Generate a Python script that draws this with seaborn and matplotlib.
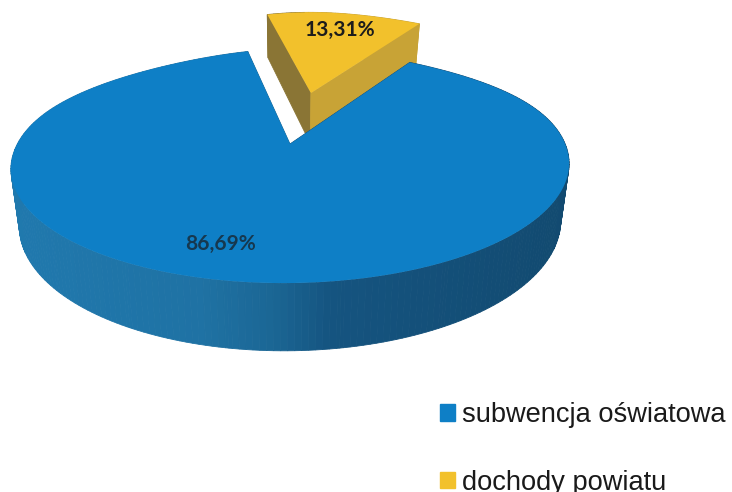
import numpy as np
import seaborn as sns
from matplotlib import pyplot as plt
from matplotlib.colors import to_hex, to_rgb
from matplotlib.patches import Patch
from matplotlib.transforms import Affine2D

categories = ['subwencja oświatowa', 'dochody powiatu']
values = [86.69, 13.31]
colors = ['#0e7fc6', '#f2c12c']

sns.set_theme(style='white')
plt.rcParams['font.family'] = ['Liberation Sans', 'DejaVu Sans']

fig, ax = plt.subplots(figsize=(7.32, 4.92), dpi=100)
fig.subplots_adjust(0, 0, 1, 1)

# pie gives the wedge geometry, it is projected by hand afterwards (3d look)
wedges, _ = ax.pie(values, explode=[0, 0.5], startangle=103.2, radius=1)
outlines = []
for w in wedges:
    poly = w.get_path().to_polygons(Affine2D().scale(1000))[0] / 1000
    outlines.append((poly, np.array(w.center), w.r))
    w.remove()

ax.set_aspect('auto')
ax.set_xlim(0, 732)
ax.set_ylim(492, 0)
ax.axis('off')


def project(pts, z=0.0):
    u, v = pts[:, 0], pts[:, 1]
    wy = 1 + 0.188 * v
    wx = 1 + 0.19 * v
    # narrower near the back middle, the original is not a clean ellipse
    pinch = 1 - 0.22 * np.clip(1 - u ** 2, 0, 1) ** 1.2 * np.clip(v, 0, 1)
    dx = 274 * u / wx * pinch
    x = 290 + dx * (1 - 0.03 * z)
    y = 144 - (112.9 * v - 55 * z) / wy - 0.01 * dx
    return np.column_stack([x, y])


def side_blue(x):
    stops = [10, 200, 270, 330, 568]
    cols = np.array([to_rgb(c) for c in ['#2079ae', '#1f72a4', '#1b6795', '#155480', '#124a70']])
    return to_hex([np.interp(x, stops, cols[:, i]) for i in range(3)])


def side_yellow(x, mid_u):
    return '#8a7535' if mid_u < 0 else '#c8a336'


def draw_slice(poly, center, r, color, side):
    edges = []
    for a, b in zip(poly[:-1], poly[1:]):
        edges.append((a, b))
    edges.sort(key=lambda e: -(e[0][1] + e[1][1]))
    for a, b in edges:
        seg = np.array([a, b])
        top = project(seg)
        bot = project(seg, 1.0)
        quad = np.vstack([top, bot[::-1]])
        c = side(quad[:, 0].mean(), ((a + b) / 2 - center)[0])
        ax.fill(quad[:, 0], quad[:, 1], color=c, lw=0.6, zorder=2)
    face = project(poly)
    ax.fill(face[:, 0], face[:, 1], color=color, lw=0, zorder=2)


# yellow first, the blue slice covers the foot of it
draw_slice(*outlines[1], colors[1], side_yellow)
draw_slice(*outlines[0], colors[0], lambda x, m: side_blue(x))

label_txt = [f'{v:.2f}%'.replace('.', ',') for v in values]
ax.text(220, 244, label_txt[0], family='Lato', weight='bold', fontsize=15, color='#16384f',
        ha='center', va='center', zorder=5)
ax.text(339.5, 30, label_txt[1], family='Lato', weight='bold', fontsize=15, color='#1c1c1c',
        ha='center', va='center', zorder=5)

handles = [Patch(color=c, label=n) for c, n in zip(colors, categories)]
ax.legend(handles=handles, frameon=False, fontsize=19.6, loc='upper left',
          bbox_to_anchor=(440 / 732, 1 - 402 / 492), borderpad=0, borderaxespad=0,
          handlelength=0.55, handleheight=0.55, handletextpad=0.26, labelspacing=1.53,
          labelcolor='#1a1a1a')

fig.savefig('out.png', dpi=100)
